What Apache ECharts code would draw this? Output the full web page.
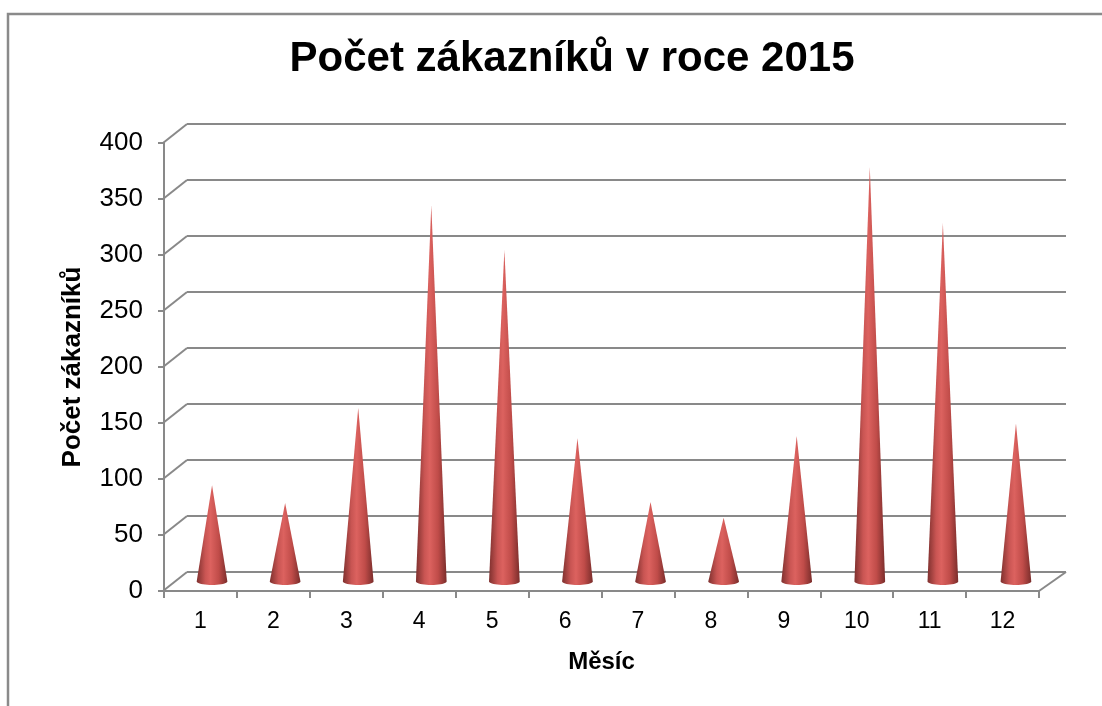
<!DOCTYPE html>
<html>
<head>
<meta charset="utf-8">
<script src="https://cdn.jsdelivr.net/npm/echarts@6/dist/echarts.min.js"></script>
<style>
html,body{margin:0;padding:0;background:#fff;}
#chart{width:1102px;height:706px;}
</style>
</head>
<body>
<div id="chart"></div>
<script>
const months = ['1','2','3','4','5','6','7','8','9','10','11','12'];
const customers = [86, 70, 155, 336, 296, 128, 71, 57, 130, 370, 320, 141];
const yTicks = [0, 50, 100, 150, 200, 250, 300, 350, 400];
const titleText = 'Počet zákazníků v roce 2015';
const yName = 'Počet zákazníků';
const xName = 'Měsíc';

const FONT = '"Liberation Sans", Arial, sans-serif';
const GRID_COLOR = '#898989';
const DEPTH_DX = -24, DEPTH_DY = 19;

const chart = echarts.init(document.getElementById('chart'));

const coneGradient = new echarts.graphic.LinearGradient(0, 0, 1, 0, [
  {offset: 0, color: '#7e302e'},
  {offset: 0.28, color: '#c95553'},
  {offset: 0.45, color: '#dc625f'},
  {offset: 0.72, color: '#c04c49'},
  {offset: 1, color: '#7a2d2b'}
]);

function renderCone(params, api) {
  const idx = api.value(0);
  const val = api.value(1);
  const base = api.coord([idx, 0]);
  const tip = api.coord([idx, val]);
  const hw = api.size([1, 0])[0] * 0.21;
  const ry = 3.5;
  const pts = [[base[0] - hw, base[1]], [tip[0], tip[1]], [base[0] + hw, base[1]]];
  for (let k = 1; k < 20; k++) {
    const a = Math.PI * k / 20;
    pts.push([base[0] + hw * Math.cos(a), base[1] + ry * Math.sin(a)]);
  }
  return {
    type: 'polygon',
    shape: {points: pts},
    style: {fill: coneGradient, stroke: null}
  };
}

function renderConnector(params, api) {
  const v = api.value(0);
  const cs = params.coordSys;
  const y = api.coord([0, v])[1];
  const children = [{
    type: 'line',
    shape: {x1: cs.x, y1: y, x2: cs.x + DEPTH_DX, y2: y + DEPTH_DY},
    style: {stroke: GRID_COLOR, lineWidth: 2}
  }];
  if (v === 0) {
    children.push({
      type: 'line',
      shape: {x1: cs.x + cs.width, y1: y, x2: cs.x + cs.width - 27, y2: y + DEPTH_DY},
      style: {stroke: GRID_COLOR, lineWidth: 2}
    });
  }
  return {type: 'group', children: children};
}

const option = {
  backgroundColor: '#ffffff',
  animation: false,
  title: {
    text: titleText,
    left: 567,
    top: 33,
    textAlign: 'center',
    textStyle: {fontFamily: FONT, fontSize: 42, fontWeight: 'bold', color: '#000'}
  },
  graphic: [{
    type: 'rect',
    silent: true,
    shape: {x: 8, y: 14, width: 1200, height: 800},
    style: {fill: null, stroke: '#8a8a8a', lineWidth: 2.5}
  }],
  grid: [
    {left: 187, top: 124, width: 879, height: 448},
    {left: 164, top: 143, width: 875, height: 448},
    {left: 175.5, top: 133.5, width: 877, height: 448}
  ],
  xAxis: [
    {gridIndex: 0, type: 'category', data: months, show: false},
    {gridIndex: 1, type: 'category', data: months, boundaryGap: true,
      axisLine: {lineStyle: {color: GRID_COLOR, width: 2}},
      axisTick: {show: true, length: 7, lineStyle: {color: GRID_COLOR, width: 2}},
      axisLabel: {color: '#000', fontFamily: FONT, fontSize: 23, margin: 19},
      name: xName, nameLocation: 'middle', nameGap: 59,
      nameTextStyle: {color: '#000', fontFamily: FONT, fontSize: 24, fontWeight: 'bold'}
    },
    {gridIndex: 2, type: 'category', data: months, show: false}
  ],
  yAxis: [
    {gridIndex: 0, type: 'value', min: 0, max: 400, interval: 50,
      axisLine: {show: false}, axisTick: {show: false}, axisLabel: {show: false},
      splitLine: {show: true, lineStyle: {color: GRID_COLOR, width: 2}}
    },
    {gridIndex: 1, type: 'value', min: 0, max: 400, interval: 50,
      axisLine: {show: true, lineStyle: {color: GRID_COLOR, width: 2}},
      axisTick: {show: true, length: 6, lineStyle: {color: GRID_COLOR, width: 2}},
      axisLabel: {color: '#000', fontFamily: FONT, fontSize: 26, margin: 21},
      splitLine: {show: false},
      name: yName, nameLocation: 'middle', nameGap: 78, nameRotate: 90,
      nameTextStyle: {color: '#000', fontFamily: FONT, fontSize: 26, fontWeight: 'bold'}
    },
    {gridIndex: 2, type: 'value', min: 0, max: 400, interval: 50, show: false,
      splitLine: {show: false}}
  ],
  series: [
    {
      type: 'custom',
      xAxisIndex: 0, yAxisIndex: 0,
      data: yTicks.map(v => [v]),
      encode: {y: 0},
      renderItem: renderConnector,
      silent: true,
      z: 1
    },
    {
      type: 'custom',
      xAxisIndex: 2, yAxisIndex: 2,
      data: customers.map((v, i) => [i, v]),
      encode: {x: 0, y: 1},
      renderItem: renderCone,
      z: 5
    }
  ]
};
chart.setOption(option);
</script>
</body>
</html>
